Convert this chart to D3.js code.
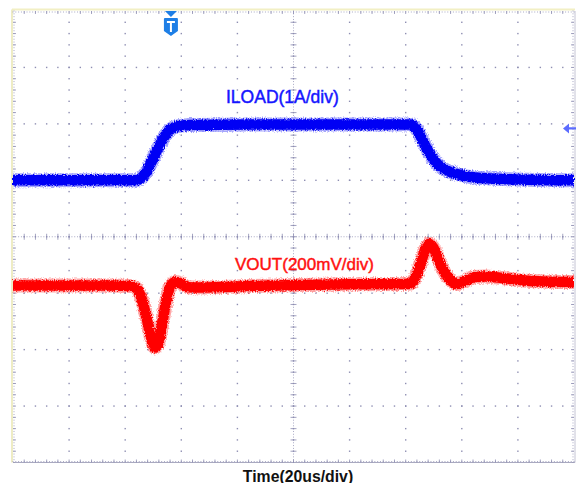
<!DOCTYPE html>
<html>
<head>
<meta charset="utf-8">
<script src="https://cdn.jsdelivr.net/npm/d3@7"></script>
<style>
  html, body { margin: 0; padding: 0; background: #fff; }
  svg { display: block; }
  text { font-family: "Liberation Sans", Arial, sans-serif; }
</style>
</head>
<body>
<div id="scope"></div>
<script>
// screen: 10 horizontal divisions x 20us, 8 vertical divisions
const timeDivs = 10;
const usPerDiv = 20;
const voltDivs = 8;

// ILOAD trace (1A/div), time in us, current in A
const iloadTime = [0, 43.9, 45.6, 47.4, 49.6, 51.7, 53.8, 56.0, 58.5, 63.1, 84.5, 141.5,
  143.7, 145.5, 147.2, 149.4, 151.5, 154.4, 158.3, 164.7, 177.2, 200];
const iloadAmps = [0, 0, 0.035, 0.14, 0.35, 0.57, 0.76, 0.90, 0.955, 0.98, 0.99, 0.99,
  0.92, 0.76, 0.59, 0.41, 0.28, 0.18, 0.11, 0.05, 0.02, 0];

// VOUT trace (200mV/div), deviation from nominal in mV
const voutTime = [0, 16.8, 34.6, 41.7, 44.2, 46.0, 47.8, 49.6, 50.6, 51.7, 53.1, 54.5, 56.0,
  57.8, 59.5, 62.4, 66.7, 84.5, 102.3, 120.1, 139.8, 141.9, 143.7, 145.5, 146.9, 148.3,
  149.7, 151.5, 153.3, 155.8, 158.3, 161.1, 164.7, 168.3, 173.6, 184.3, 200];
const voutMv = [0, 0, 0, -2, -12, -51, -122, -197, -220, -207, -140, -62, -5,
  12, 9, -6, -7, -2, 2, 4, 5, 7, 34, 83, 126, 147,
  136, 97, 55, 20, 5, 16, 30, 32, 27, 16, 12];

const triggerUs = 56.3;
const labels = { iload: 'ILOAD(1A/div)', vout: 'VOUT(200mV/div)', time: 'Time(20us/div)' };

const W = 576, H = 483;
const pLeft = 13, pRight = 574, pTop = 11, pBottom = 462.5;

const x = d3.scaleLinear().domain([0, timeDivs * usPerDiv]).range([pLeft, pRight]);
const yDiv = d3.scaleLinear().domain([-voltDivs / 2, voltDivs / 2]).range([pBottom, pTop]);

// channel offsets in divisions
const iloadOffset = 1.0;
const voutOffset = -0.863;

const svg = d3.select('#scope').append('svg')
  .attr('width', W)
  .attr('height', H);

const defs = svg.append('defs');
const filt = defs.append('filter').attr('id', 'noise')
  .attr('x', '-5%').attr('y', '-30%').attr('width', '110%').attr('height', '160%');
filt.append('feTurbulence').attr('type', 'fractalNoise')
  .attr('baseFrequency', '0.9 0.7').attr('numOctaves', 1).attr('seed', 4).attr('result', 't');
filt.append('feDisplacementMap').attr('in', 'SourceGraphic').attr('in2', 't')
  .attr('scale', 5).attr('xChannelSelector', 'R').attr('yChannelSelector', 'G');

// grid
const gridColor = '#8e8eb2';
const grid = svg.append('g');
const minorX = (pRight - pLeft) / (timeDivs * 5);
const minorY = (pBottom - pTop) / (voltDivs * 5);

// frame
grid.append('line').attr('x1', pLeft - 1).attr('x2', pRight + 1).attr('y1', pTop - 1.5).attr('y2', pTop - 1.5)
  .attr('stroke', '#f2efc4').attr('stroke-width', 2);
grid.append('line').attr('x1', pLeft - 1).attr('x2', pLeft - 1).attr('y1', pTop - 1.5).attr('y2', pBottom)
  .attr('stroke', '#eeecc4').attr('stroke-width', 2);
grid.append('line').attr('x1', pLeft).attr('x2', pRight + 1).attr('y1', pBottom).attr('y2', pBottom)
  .attr('stroke', '#a9a9c0').attr('stroke-width', 1);
grid.append('line').attr('x1', pRight + 1).attr('x2', pRight + 1).attr('y1', pTop).attr('y2', pBottom)
  .attr('stroke', '#c4c4d4').attr('stroke-width', 1);

// dotted major lines
const dots = [];
for (let k = 1; k < timeDivs; k++) {
  const gx = pLeft + k * (pRight - pLeft) / timeDivs;
  for (let j = 1; j < voltDivs * 5; j++) dots.push([gx, pTop + j * minorY]);
}
for (let k = 1; k < voltDivs; k++) {
  const gy = pTop + k * (pBottom - pTop) / voltDivs;
  for (let j = 1; j < timeDivs * 5; j++) dots.push([pLeft + j * minorX, gy]);
}
grid.selectAll('rect.dot').data(dots).enter().append('rect')
  .attr('class', 'dot')
  .attr('x', d => d[0] - 0.7).attr('y', d => d[1] - 0.7)
  .attr('width', 1.4).attr('height', 1.4)
  .attr('fill', gridColor);

// tick marks on centre lines and frame edges
const cx = (pLeft + pRight) / 2, cy = (pTop + pBottom) / 2;
const ticks = [];
for (let j = 1; j < timeDivs * 5; j++) {
  const tx = pLeft + j * minorX;
  ticks.push([tx, cy - 3, tx, cy + 3]);
  ticks.push([tx, pTop, tx, pTop + 3]);
  ticks.push([tx, pBottom - 3, tx, pBottom]);
}
for (let j = 1; j < voltDivs * 5; j++) {
  const ty = pTop + j * minorY;
  ticks.push([cx - 3, ty, cx + 3, ty]);
  ticks.push([pLeft, ty, pLeft + 3, ty]);
  ticks.push([pRight - 3, ty, pRight, ty]);
}
grid.selectAll('line.tick').data(ticks).enter().append('line')
  .attr('class', 'tick')
  .attr('x1', d => d[0]).attr('y1', d => d[1]).attr('x2', d => d[2]).attr('y2', d => d[3])
  .attr('stroke', gridColor).attr('stroke-width', 1).attr('opacity', 0.8);

// fine dots along centre and frame edges
const fine = [];
for (let p = pLeft; p <= pRight; p += minorX / 4) {
  fine.push([p, cy]); fine.push([p, pTop + 1]); fine.push([p, pBottom - 1]);
}
for (let p = pTop; p <= pBottom; p += minorY / 4) {
  fine.push([cx, p]); fine.push([pLeft + 1, p]); fine.push([pRight - 1, p]);
}
grid.selectAll('rect.fine').data(fine).enter().append('rect')
  .attr('class', 'fine')
  .attr('x', d => d[0] - 0.5).attr('y', d => d[1] - 0.5)
  .attr('width', 1).attr('height', 1)
  .attr('fill', gridColor).attr('opacity', 0.75);

// traces
const iloadLine = d3.line()
  .x((d, i) => x(iloadTime[i]))
  .y(d => yDiv(d + iloadOffset))
  .curve(d3.curveMonotoneX);
const voutLine = d3.line()
  .x((d, i) => x(voutTime[i]))
  .y(d => yDiv(d / 200 + voutOffset))
  .curve(d3.curveMonotoneX);

function trace(path, color) {
  const g = svg.append('g').attr('filter', 'url(#noise)');
  g.append('path').attr('d', path).attr('fill', 'none')
    .attr('stroke', color).attr('stroke-width', 14).attr('opacity', 0.35)
    .attr('stroke-linejoin', 'round');
  g.append('path').attr('d', path).attr('fill', 'none')
    .attr('stroke', color).attr('stroke-width', 10.5)
    .attr('stroke-linejoin', 'round');
}
trace(iloadLine(iloadAmps), '#0505f5');
trace(voutLine(voutMv), '#ff0000');

// labels
svg.append('text').attr('x', 226).attr('y', 103)
  .attr('font-size', 17.5).attr('fill', '#1515ff')
  .attr('stroke', '#1515ff').attr('stroke-width', 0.45).text(labels.iload);
svg.append('text').attr('x', 235).attr('y', 270)
  .attr('font-size', 17).attr('fill', '#ff1010')
  .attr('stroke', '#ff1010').attr('stroke-width', 0.45).text(labels.vout);
svg.append('text').attr('x', 298).attr('y', 481.5).attr('text-anchor', 'middle')
  .attr('font-size', 15.8).attr('font-weight', 'bold').attr('fill', '#111').text(labels.time);

// trigger position marker
const trigX = x(triggerUs);
const trig = svg.append('g').attr('transform', `translate(${trigX},0)`);
trig.append('path').attr('d', 'M-6,11 L6,11 L0,17 Z').attr('fill', '#1e7fe6');
trig.append('path').attr('d', 'M-7,19 Q-7,18 -6,18 L6,18 Q7,18 7,19 L7,31 L0,36 L-7,31 Z').attr('fill', '#1e7fe6');
trig.append('path').attr('d', 'M-4,21 L4,21 L4,23 L1,23 L1,32 L-1,32 L-1,23 L-4,23 Z').attr('fill', '#fff');

// trigger level arrow on right edge
const ay = yDiv(iloadOffset + 0.92);
svg.append('path')
  .attr('d', `M563,${ay} L569,${ay - 5} L569,${ay - 1.2} L576,${ay - 1.2} L576,${ay + 1.2} L569,${ay + 1.2} L569,${ay + 5} Z`)
  .attr('fill', '#5c6cff');
</script>
</body>
</html>
